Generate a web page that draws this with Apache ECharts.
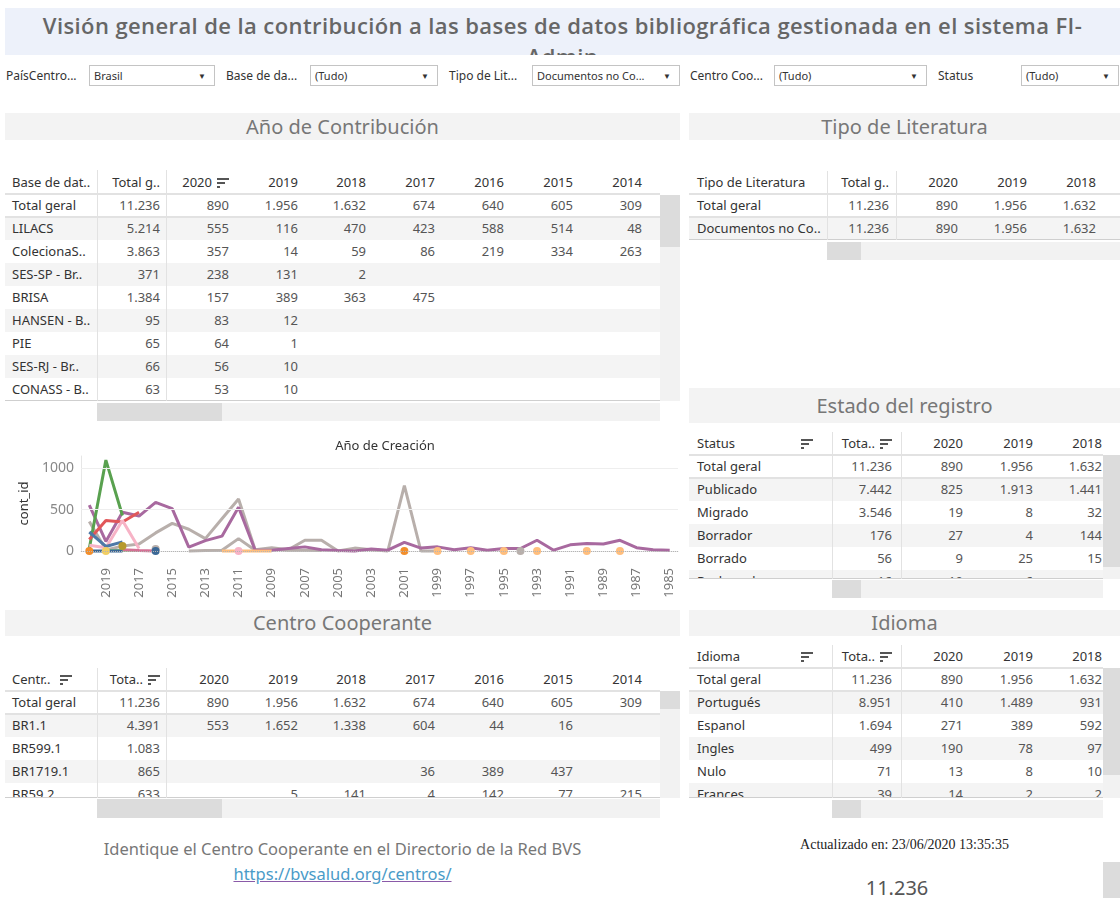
<!DOCTYPE html>
<html lang="es">
<head>
<meta charset="utf-8">
<title>FI-Admin</title>
<script src="https://cdn.jsdelivr.net/npm/echarts@6/dist/echarts.min.js"></script>
<style>
  body { margin: 0; width: 1120px; height: 898px; overflow: hidden; position: relative; background: #fff; font-family: 'Noto Sans', sans-serif; color: #333; }
  .a { position: absolute; }
  #head { left: 5px; top: 8px; width: 1115px; height: 47px; background: #edf1fa; overflow: hidden; text-align: center;
          font-family: 'Open Sans', 'Noto Sans', sans-serif; font-size: 22px; line-height: 31px; padding-top: 2px; box-sizing: border-box;
          color: #666; font-weight: 600; letter-spacing: 0.4px; white-space: nowrap; }
  .flab { font-size: 12px; line-height: 21px; top: 65px; color: #333; white-space: nowrap; }
  .dd { top: 65px; height: 21px; border: 1px solid #c4c4c4; box-sizing: border-box; font-size: 11px; line-height: 19px; padding-left: 4px; color: #333; background: #fff; white-space: nowrap; overflow: hidden; }
  .dd b { position: absolute; right: 8px; top: 0; font-size: 8px; font-weight: normal; color: #333; }
  .band { background: #f3f3f3; text-align: center; font-size: 20px; color: #777; white-space: nowrap; }
  .tbl { overflow: hidden; }
  .cell { position: absolute; white-space: nowrap; overflow: hidden; box-sizing: border-box; font-size: 13px; }
  .lab { text-align: left; color: #333; }
  .num { text-align: right; color: #555; }
  .hd { color: #333; }
  .shade { position: absolute; background: #f4f4f4; }
  .hl { position: absolute; left: 0; background: #e2e2e2; }
  .vl { position: absolute; top: 0; width: 1px; background: #e2e2e2; }
  .srt { display: inline-block; width: 12px; height: 10px; vertical-align: -1px; margin-left: 5px;
         background: linear-gradient(#555,#555) 0 0/12px 2px no-repeat, linear-gradient(#555,#555) 0 4px/8px 2px no-repeat, linear-gradient(#555,#555) 0 8px/3px 2px no-repeat; }
  .srt.r { position: absolute; right: 19px; top: 7px; margin: 0; }
  .trk { background: #f2f2f2; }
  .thm { background: #dcdcdc; }
  #chart { left: 0; top: 430px; width: 680px; height: 180px; }
</style>
</head>
<body>
<div id="head" class="a">Visión general de la contribución a las bases de datos bibliográfica gestionada en el sistema FI-<br>Admin</div>

<div class="a flab" style="left:6px">PaísCentro...</div>
<div class="a dd" style="left:89px;width:126px">Brasil<b>▼</b></div>
<div class="a flab" style="left:226px">Base de da...</div>
<div class="a dd" style="left:310px;width:128px">(Tudo)<b>▼</b></div>
<div class="a flab" style="left:449px">Tipo de Lit...</div>
<div class="a dd" style="left:532px;width:148px">Documentos no Co...<b>▼</b></div>
<div class="a flab" style="left:690px">Centro Coo...</div>
<div class="a dd" style="left:774px;width:153px">(Tudo)<b>▼</b></div>
<div class="a flab" style="left:938px">Status</div>
<div class="a dd" style="left:1021px;width:98px">(Tudo)<b>▼</b></div>

<div class="a band" style="left:5px;top:113px;width:675px;height:27px;line-height:27px">Año de Contribución</div>
<div class="a band" style="left:689px;top:113px;width:431px;height:27px;line-height:27px">Tipo de Literatura</div>
<div class="a band" style="left:689px;top:388px;width:431px;height:35px;line-height:35px">Estado del registro</div>
<div class="a band" style="left:5px;top:610px;width:675px;height:26px;line-height:26px">Centro Cooperante</div>
<div class="a band" style="left:689px;top:610px;width:431px;height:26px;line-height:26px">Idioma</div>

<!-- barras de desplazamiento -->
<div class="a trk" style="left:660px;top:195px;width:20px;height:206px"></div>
<div class="a thm" style="left:660px;top:195px;width:20px;height:52px"></div>
<div class="a trk" style="left:97px;top:403px;width:563px;height:18px"></div>
<div class="a thm" style="left:97px;top:403px;width:125px;height:18px"></div>
<div class="a trk" style="left:827px;top:242px;width:293px;height:18px"></div>
<div class="a thm" style="left:827px;top:242px;width:34px;height:18px"></div>
<div class="a trk" style="left:1103px;top:455px;width:17px;height:124px"></div>
<div class="a thm" style="left:1103px;top:455px;width:17px;height:112px"></div>
<div class="a trk" style="left:832px;top:580px;width:271px;height:18px"></div>
<div class="a thm" style="left:832px;top:580px;width:29px;height:18px"></div>
<div class="a trk" style="left:660px;top:691px;width:20px;height:107px"></div>
<div class="a thm" style="left:660px;top:691px;width:20px;height:18px"></div>
<div class="a trk" style="left:97px;top:799px;width:563px;height:19px"></div>
<div class="a thm" style="left:97px;top:799px;width:125px;height:19px"></div>
<div class="a trk" style="left:1103px;top:668px;width:17px;height:130px"></div>
<div class="a thm" style="left:1103px;top:668px;width:17px;height:107px"></div>
<div class="a trk" style="left:832px;top:800px;width:271px;height:18px"></div>
<div class="a thm" style="left:832px;top:800px;width:29px;height:18px"></div>
<div class="a thm" style="left:1103px;top:862px;width:17px;height:36px"></div>

<div id="chart" class="a"></div>

<div class="a" style="left:5px;top:838px;width:675px;text-align:center;font-size:16.5px;line-height:22px;color:#777">Identique el Centro Cooperante en el Directorio de la Red BVS</div>
<div class="a" style="left:5px;top:862px;width:675px;text-align:center;font-size:16.5px;line-height:24px">
  <a href="https://bvsalud.org/centros/" style="color:#4a9bc8;text-decoration-color:#8a5aa8">https://bvsalud.org/centros/</a></div>
<div class="a" style="left:689px;top:836px;width:431px;text-align:center;font-family:'Liberation Serif',serif;font-size:14px;line-height:18px;color:#222">Actualizado en: 23/06/2020 13:35:35</div>
<div class="a" style="left:689px;top:875px;width:416px;text-align:center;font-size:20px;line-height:26px;color:#555">11.236</div>

<script>
const _ = null;

// ---- Año de Creación (gráfico de líneas) ----
const years = [2020, 2019, 2018, 2017, 2016, 2015, 2014, 2013, 2012, 2011,
               2010, 2009, 2008, 2007, 2006, 2005, 2004, 2003, 2002, 2001,
               2000, 1999, 1998, 1997, 1996, 1995, 1994, 1993, 1992, 1991,
               1990, 1989, 1988, 1987, 1986, 1985];

const lilacs = [555, 116, 470, 423, 588, 514, 48, 125, 180, 530,
                10, 10, 30, 50, 15, 5, 0, 25, 10, 105,
                35, 50, 15, 40, 10, 30, 30, 130, 10, 75,
                90, 85, 130, 40, 15, 10];
const coleciona = [357, 14, 59, 86, 219, 334, 263, 150, 390, 630,
                   15, 40, 15, 130, 130, 0, 35, 15, 0, 790,
                   0, 0, _, _, _, _, _, _, _, _,
                   _, _, _, _, _, _];
const grisOtro = [_, _, _, _, 25, _, 0, 5, 10, 150,
                  10, 25, 10, 10, 5, _, _, _, _, _,
                  _, _, _, _, _, _, 0, _, _, _,
                  _, _, _, _, _, _];
const rojo = [140, 370, 350, 470];
const verde = [30, 1100, 430];
const verdeClaro = [_, 5, 5, 5];
const rosa = [70, 40, 370, 30, _, _, _, _, _, 0];
const azul = [230, 55, 110];
const azulOscuro = [0, 0, 0, _, 0];
const oliva = [_, _, 60];
const magenta = [_, _, 15, 5, 0];
const naranja = [0, _, _, _, _, _, _, _, _, _,
                 _, _, _, _, _, _, _, _, _, 0];
const naranjaClaro = [_, _, _, _, _, _, _, _, 0, 0,
                      0, 0, _, _, _, _, _, _, _, _,
                      _, 0, _, 0, _, 0, _, 0, _, _,
                      0, _, 0, _, _, _];
const amarillo = [_, 0];

// ---- tablas ----
const contribYears = ['2019', '2018', '2017', '2016', '2015', '2014'];
const contribLabels = ['Total geral', 'LILACS', 'ColecionaS..', 'SES-SP - Br..', 'BRISA', 'HANSEN - B..', 'PIE', 'SES-RJ - Br..', 'CONASS - B..'];
const contribTotal = [11236, 5214, 3863, 371, 1384, 95, 65, 66, 63];
const contribByYear = [
  [890, 1956, 1632, 674, 640, 605, 309],
  [555, 116, 470, 423, 588, 514, 48],
  [357, 14, 59, 86, 219, 334, 263],
  [238, 131, 2],
  [157, 389, 363, 475],
  [83, 12],
  [64, 1],
  [56, 10],
  [53, 10]
];

const tipoLabels = ['Total geral', 'Documentos no Co..'];
const tipoTotal = [11236, 11236];
const tipoByYear = [[890, 1956, 1632], [890, 1956, 1632]];

const estadoLabels = ['Total geral', 'Publicado', 'Migrado', 'Borrador', 'Borrado', 'Rechazado'];
const estadoTotal = [11236, 7442, 3546, 176, 56, 16];
const estadoByYear = [[890, 1956, 1632], [825, 1913, 1441], [19, 8, 32], [27, 4, 144], [9, 25, 15], [10, 6, _]];

const centroLabels = ['Total geral', 'BR1.1', 'BR599.1', 'BR1719.1', 'BR59.2'];
const centroTotal = [11236, 4391, 1083, 865, 633];
const centroByYear = [
  [890, 1956, 1632, 674, 640, 605, 309],
  [553, 1652, 1338, 604, 44, 16],
  [],
  [_, _, _, 36, 389, 437],
  [_, 5, 141, 4, 142, 77, 215]
];

const idiomaLabels = ['Total geral', 'Portugués', 'Espanol', 'Ingles', 'Nulo', 'Frances'];
const idiomaTotal = [11236, 8951, 1694, 499, 71, 39];
const idiomaByYear = [[890, 1956, 1632], [410, 1489, 931], [271, 389, 592], [190, 78, 97], [13, 8, 10], [14, 2, 2]];

const fmt = n => n == null ? '' : String(n).replace(/\B(?=(\d{3})+(?!\d))/g, '.');
const icon = '<i class="srt"></i>';

function drawTable(t) {
  const box = document.createElement('div');
  box.className = 'a tbl';
  box.style.cssText = `left:${t.x}px;top:${t.y}px;width:${t.w}px;height:${t.h}px`;
  const rows = [t.head].concat(t.labels.map((lab, i) => {
    const vals = t.byYear[i] || [];
    return [lab, fmt(t.total[i])].concat(t.cols.slice(2).map((c, k) => fmt(vals[k])));
  }));
  rows.forEach((cells, i) => {
    const top = i === 0 ? 0 : t.headH + (i - 1) * t.rowH;
    const h = i === 0 ? t.headH : t.rowH;
    if (i >= 2 && i % 2 === 0) {
      const s = document.createElement('div');
      s.className = 'shade';
      s.style.cssText = `left:0;top:${top}px;width:${t.w}px;height:${h}px`;
      box.appendChild(s);
    }
    cells.forEach((txt, j) => {
      const c = t.cols[j];
      const d = document.createElement('div');
      d.className = 'cell ' + (j === 0 ? 'lab' : 'num') + (i === 0 ? ' hd' : '');
      const pad = j === 0 ? `padding-left:${c[2]}px` : `padding-right:${c[2]}px`;
      d.style.cssText = `left:${c[0] - t.x}px;top:${top}px;width:${c[1] - c[0]}px;height:${h}px;line-height:${h}px;${pad}`;
      d.innerHTML = txt;
      box.appendChild(d);
    });
  });
  [t.headH, t.headH + t.rowH].forEach(y => {
    const l = document.createElement('div');
    l.className = 'hl';
    l.style.cssText = `top:${y - 1}px;width:${t.w}px;height:2px`;
    box.appendChild(l);
  });
  const b = document.createElement('div');
  b.className = 'hl';
  b.style.cssText = `top:${t.h - 1}px;width:${t.w}px;height:1px;background:#cfcfcf`;
  box.appendChild(b);
  [t.cols[1][0], t.cols[2][0]].forEach(x => {
    const v = document.createElement('div');
    v.className = 'vl';
    v.style.cssText = `left:${x - t.x}px;height:${t.h}px`;
    box.appendChild(v);
  });
  document.body.appendChild(box);
}

const leftCols = [[5, 97, 7], [97, 166, 6], [166, 235, 6], [235, 304, 6], [304, 372, 6], [372, 441, 6], [441, 510, 6], [510, 579, 6], [579, 648, 6]];
const rightCols = [[689, 832, 8], [832, 901, 9], [901, 968, 5], [968, 1037, 4], [1037, 1106, 4]];

drawTable({ x: 5, y: 170, w: 655, h: 231, headH: 24, rowH: 23, cols: leftCols,
  head: ['Base de dat..', 'Total g..', '2020' + icon].concat(contribYears),
  labels: contribLabels, total: contribTotal, byYear: contribByYear });

drawTable({ x: 689, y: 171, w: 431, h: 69, headH: 23, rowH: 23,
  cols: [[689, 827, 8], [827, 896, 7], [896, 965, 7], [965, 1034, 7], [1034, 1103, 7]],
  head: ['Tipo de Literatura', 'Total g..', '2020', '2019', '2018'],
  labels: tipoLabels, total: tipoTotal, byYear: tipoByYear });

drawTable({ x: 689, y: 432, w: 414, h: 147, headH: 23, rowH: 23, cols: rightCols,
  head: ['Status<i class="srt r"></i>', 'Tota..' + icon, '2020', '2019', '2018'],
  labels: estadoLabels, total: estadoTotal, byYear: estadoByYear });

drawTable({ x: 5, y: 668, w: 655, h: 130, headH: 23, rowH: 23, cols: leftCols,
  head: ['Centr..' + icon.replace('srt', 'srt" style="margin-left:9px'), 'Tota..' + icon, '2020'].concat(contribYears),
  labels: centroLabels, total: centroTotal, byYear: centroByYear });

drawTable({ x: 689, y: 645, w: 414, h: 153, headH: 23, rowH: 23, cols: rightCols,
  head: ['Idioma<i class="srt r"></i>', 'Tota..' + icon, '2020', '2019', '2018'],
  labels: idiomaLabels, total: idiomaTotal, byYear: idiomaByYear });

// ---- gráfico ----
const chart = echarts.init(document.getElementById('chart'));

// only lone points (no neighbour on either side) get a dot, like Tableau
const loneDots = data => data.map((v, i) => {
  if (v == null) return null;
  const lone = data[i - 1] == null && data[i + 1] == null;
  return lone ? v : { value: v, symbolSize: 0 };
});

const mk = (name, data, color) => ({
  name, type: 'line', data: loneDots(data), connectNulls: false, clip: false,
  symbol: 'circle', symbolSize: 8, showSymbol: true, showAllSymbol: true,
  lineStyle: { width: 3, color }, itemStyle: { color },
  emphasis: { disabled: true }
});

chart.setOption({
  animation: false,
  textStyle: { fontFamily: 'Noto Sans' },
  title: {
    text: 'Año de Creación', left: 380, top: 5, textAlign: 'center',
    textStyle: { fontSize: 13, fontWeight: 'normal', color: '#333' }
  },
  grid: { left: 81, right: 2, top: 26, bottom: 59 },
  xAxis: {
    type: 'category', data: years.map(String), boundaryGap: true, offset: 10,
    axisLine: { lineStyle: { color: '#e6e6e6' } },
    axisTick: { show: false },
    axisLabel: { rotate: 90, interval: i => i % 2 === 1, color: '#777', fontSize: 13, margin: 7 }
  },
  yAxis: {
    type: 'value', min: 0, max: 1150, interval: 500,
    name: 'cont_id', nameLocation: 'middle', nameGap: 38,
    nameTextStyle: { fontSize: 13, color: '#333' },
    axisLine: { show: true, lineStyle: { color: '#e6e6e6' } },
    axisTick: { show: false },
    splitLine: { show: false },
    axisLabel: { color: '#888', fontSize: 14, margin: 7, showMaxLabel: false, formatter: v => String(v) }
  },
  series: [
    {
      type: 'line', data: [], z: 1, silent: true,
      markLine: {
        silent: true, symbol: 'none', label: { show: false },
        data: [
          { yAxis: 0, lineStyle: { type: 'dotted', color: '#b5b5b5', width: 1 } },
          { yAxis: 500, lineStyle: { type: 'solid', color: '#eeeeee', width: 1 } },
          { yAxis: 1000, lineStyle: { type: 'solid', color: '#eeeeee', width: 1 } }
        ]
      }
    },
    mk('ColecionaSUS', coleciona, '#b8afab'),
    mk('Otro', grisOtro, '#b8afab'),
    mk('LILACS', lilacs, '#a8699f'),
    mk('BRISA', verde, '#59a14f'),
    mk('SES-SP', rojo, '#e15759'),
    mk('HANSEN', rosa, '#f7b3c6'),
    mk('PIE', verdeClaro, '#8cd17d'),
    mk('SES-RJ', azul, '#4e79a7'),
    mk('CONASS', magenta, '#d37295'),
    mk('Oliva', oliva, '#b6992d'),
    mk('Naranja', naranja, '#f28e2b'),
    mk('NaranjaClaro', naranjaClaro, '#ffbe7d'),
    mk('Amarillo', amarillo, '#f1ce63'),
    mk('AzulOscuro', azulOscuro, '#3b6896')
  ]
});
</script>
</body>
</html>
